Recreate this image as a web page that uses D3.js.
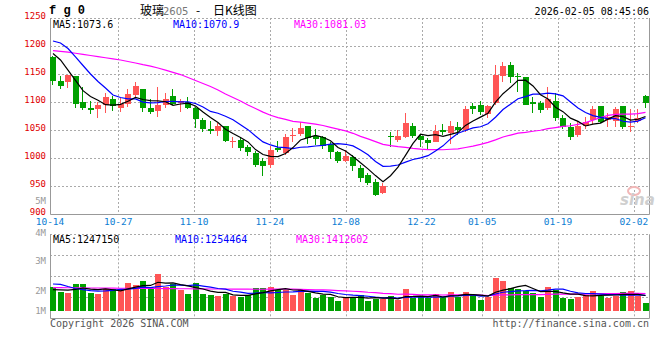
<!DOCTYPE html>
<html>
<head>
<meta charset="utf-8">
<script src="https://cdn.jsdelivr.net/npm/d3@7"></script>
<style>
  body { margin: 0; background: #fff; }
  svg { display: block; font-family: "DejaVu Sans Mono", monospace; font-size: 10px; }
</style>
</head>
<body>
<script>
// trading days shown on the chart (10-14 .. 02-04)
const dates = ["10-14","10-15","10-16","10-17","10-20","10-21","10-22","10-23","10-24","10-27",
  "10-28","10-29","10-30","10-31","11-03","11-04","11-05","11-06","11-07","11-10",
  "11-11","11-12","11-13","11-14","11-17","11-18","11-19","11-20","11-21","11-24",
  "11-25","11-26","11-27","11-28","12-01","12-02","12-03","12-04","12-05","12-08",
  "12-09","12-10","12-11","12-12","12-15","12-16","12-17","12-18","12-19","12-22",
  "12-23","12-24","12-25","12-26","12-29","12-30","12-31","01-05","01-06","01-07",
  "01-08","01-09","01-12","01-13","01-14","01-15","01-16","01-19","01-20","01-21",
  "01-22","01-23","01-26","01-27","01-28","01-29","01-30","02-02","02-03","02-04"];

const opens = [1180,1138,1136,1146,1100,1090,1088,1095,1106,1090, 1097,1113,1123,1090,1084,1094,1110,1098,1100,1089,
  1067,1052,1049,1057,1029,1032,1020,1009,995,988, 1017,1009,1040,1043,1057,1039,1037,1025,1011,995,
  1001,983,970,957,938,1040,1033,1037,1058,1040, 1033,1029,1050,1044,1055,1050,1092,1095,1078,1098,
  1146,1166,1147,1144,1100,1098,1090,1102,1072,1056, 1041,1057,1067,1092,1068,1066,1092,1055,1066,1110];
const highs = [1183,1146,1149,1147,1127,1102,1100,1116,1110,1107, 1124,1136,1123,1106,1127,1116,1123,1106,1109,1091,
  1072,1066,1062,1058,1038,1035,1023,1013,1000,1021, 1030,1043,1053,1065,1058,1052,1040,1029,1012,1015,
  1005,987,973,962,955,1046,1050,1080,1062,1043, 1035,1059,1061,1066,1065,1092,1098,1101,1095,1166,
  1171,1171,1151,1145,1109,1102,1127,1116,1076,1063, 1066,1073,1093,1093,1080,1091,1093,1087,1087,1113];
const lows = [1131,1123,1125,1090,1086,1079,1072,1081,1084,1083, 1091,1109,1082,1079,1073,1089,1094,1083,1087,1054,
  1047,1043,1039,1028,1018,1013,1004,984,967,983, 1011,1005,1029,1039,1025,1023,1016,999,991,993,
  977,957,952,933,935,1019,1028,1035,1036,1020, 1016,1028,1041,1025,1041,1046,1079,1077,1071,1095,
  1136,1134,1118,1094,1081,1081,1086,1066,1052,1033, 1038,1052,1061,1062,1055,1056,1052,1046,1063,1090];
const closes = [1138,1129,1148,1096,1090,1086,1095,1109,1093,1096, 1114,1129,1090,1083,1094,1106,1097,1102,1090,1069,
  1052,1049,1057,1030,1030,1017,1010,988,986,1014, 1014,1038,1041,1054,1035,1034,1021,1010,994,1004,
  985,964,956,934,950,1038,1040,1062,1040,1032, 1026,1048,1047,1058,1050,1088,1087,1082,1093,1148,
  1164,1144,1144,1095,1096,1086,1105,1071,1056,1038, 1057,1064,1088,1065,1073,1088,1056,1057,1072,1098];

// volume, millions of lots
const volumes = [1.94,1.53,1.45,2.19,2.19,1.45,1.37,1.78,1.80,1.70, 2.27,2.11,2.43,1.84,3.01,1.92,2.19,1.70,1.37,2.27,
  1.37,1.29,1.23,1.37,1.23,1.15,1.29,1.86,1.86,1.94, 1.70,1.70,1.29,1.78,1.43,1.07,1.26,1.15,0.80,1.10,
  1.15,1.29,0.82,0.98,0.93,1.23,0.88,1.78,1.02,1.10, 1.02,1.37,1.10,1.53,1.15,1.53,1.29,0.88,1.15,2.70,
  2.43,1.86,1.75,1.64,1.43,1.15,1.94,1.70,1.07,0.96, 1.15,1.29,1.61,1.23,1.07,1.23,1.53,1.61,1.23,0.63];

// moving average values before enough history is on screen
const ma5Head = [1186.6,1175,1157,1138.6];
const ma10Head = [1208.9,1205.4,1195.5,1180.4,1165.2,1150,1136.6,1125,1112.5];
const ma30Head = [1191.6,1190.5,1189,1187,1185,1183,1181,1179,1177,1175,1172.3,1169.6,1166.6,1164,1160.7,
  1156.8,1153,1149,1143.8,1138.4,1133,1127.7,1121.4,1114.3,1108,1101.8,1094.6,1088.4,1082];
const volMa5Head = [1.72,1.70,1.68,1.74];
const volMa10Head = [2.19,2.16,1.98,1.82,1.72,1.64,1.61,1.62,1.66];
const volMa30Head = [1.89,1.89,1.88,1.88,1.87,1.86,1.86,1.85,1.85,1.84,1.84,1.83,1.83,1.82,1.82,
  1.81,1.81,1.80,1.80,1.79,1.79,1.78,1.78,1.78,1.77,1.77,1.77,1.76,1.76];

const priceTicks = [1250,1200,1150,1100,1050,1000,950,900];
const volTickLabels = ["5M","4M","3M","2M","1M"];
const dateLabels = ["10-14","10-27","11-10","11-24","12-08","12-22","01-05","01-19","02-02"];
const priceLegend = ["MA5:1073.6","MA10:1070.9","MA30:1081.03"];
const volLegend = ["MA5:1247150","MA10:1254464","MA30:1412602"];
const maColors = ["#000000","#0000ff","#ff00ff"];

const UP = "#ff5555", DOWN = "#00a000";

const width = 660, height = 360;
const left = 50, right = 649;
const cr = v => Math.round(v) + 0.5;

const svg = d3.select("body").append("svg")
  .attr("width", width)
  .attr("height", height);

const x = d3.scaleBand().domain(d3.range(dates.length)).range([50, 648.5]).paddingInner(0.2).paddingOuter(0);
const xGrid = d3.scaleLinear().domain([0, dates.length - 1]).range([left, right]);
const y = d3.scaleLinear().domain([900, 1250]).range([214, 18]);
const yVol = d3.scaleLinear().domain([0, 1]).range([310.7, 298.5]);
const volRows = d3.scaleLinear().domain([0, 4]).range([317.5, 234.3]);
const yVolTick = d3.scaleLinear().domain([5, 4, 3, 2, 1]).range([200.5, 233, 261, 291, 311]);

const movingAvg = (vals, n, head) => vals.map((v, i) =>
  i < n - 1 ? head[i] : d3.mean(vals.slice(i - n + 1, i + 1)));

const gridIdx = dateLabels.map(d => dates.indexOf(d))
  .filter(i => xGrid(i) - left > 15 && right - xGrid(i) > 15);

// ---------- grid & frames ----------
const grid = svg.append("g").attr("stroke", "#aaa").attr("stroke-dasharray", "2,2").attr("fill", "none");

grid.selectAll(".hgrid")
  .data(priceTicks.filter(t => t > 900))
  .join("line")
  .attr("x1", left).attr("x2", right)
  .attr("y1", d => cr(y(d))).attr("y2", d => cr(y(d)));

grid.selectAll(".vgrid")
  .data(gridIdx)
  .join("line")
  .attr("x1", d => cr(xGrid(d))).attr("x2", d => cr(xGrid(d)))
  .attr("y1", y(1250)).attr("y2", y(900));

grid.selectAll(".vhgrid")
  .data(d3.range(1, 5))
  .join("line")
  .attr("x1", left).attr("x2", right)
  .attr("y1", d => cr(volRows(d))).attr("y2", d => cr(volRows(d)));

grid.selectAll(".vvgrid")
  .data(gridIdx)
  .join("line")
  .attr("x1", d => cr(xGrid(d))).attr("x2", d => cr(xGrid(d)))
  .attr("y1", volRows(4)).attr("y2", volRows(0));

const frame = svg.append("g").attr("stroke", "#999").attr("fill", "none");
frame.append("path")
  .attr("d", `M${cr(left)},${y(1250)}V${cr(y(900))}H${cr(right)}V${y(1250)}`);
frame.append("path")
  .attr("d", `M${cr(left)},${volRows(4)}V${cr(volRows(0))}H${cr(right)}V${volRows(4)}`);

// ---------- candles ----------
const candle = svg.append("g")
  .selectAll("g")
  .data(d3.range(dates.length))
  .join("g")
  .attr("fill", i => closes[i] >= opens[i] ? UP : DOWN)
  .attr("shape-rendering", "crispEdges");

candle.append("rect")
  .attr("x", i => Math.round(x(i)) + 2)
  .attr("width", 1)
  .attr("y", i => Math.round(y(highs[i])))
  .attr("height", i => Math.max(1, Math.round(y(lows[i])) - Math.round(y(highs[i]))));

candle.append("rect")
  .attr("x", i => Math.round(x(i)))
  .attr("width", x.bandwidth())
  .attr("y", i => Math.round(y(Math.max(opens[i], closes[i]))))
  .attr("height", i => Math.max(1, Math.round(y(Math.min(opens[i], closes[i]))) - Math.round(y(Math.max(opens[i], closes[i])))));

// ---------- volume bars ----------
svg.append("g")
  .attr("shape-rendering", "crispEdges")
  .selectAll("rect")
  .data(volumes)
  .join("rect")
  .attr("x", (d, i) => Math.round(x(i)))
  .attr("width", x.bandwidth())
  .attr("y", d => Math.round(yVol(d)))
  .attr("height", d => Math.round(yVol(0)) - Math.round(yVol(d)))
  .attr("fill", (d, i) => closes[i] >= opens[i] ? UP : DOWN);

// ---------- moving averages ----------
const priceMAs = [movingAvg(closes, 5, ma5Head), movingAvg(closes, 10, ma10Head), movingAvg(closes, 30, ma30Head)];
const volMAs = [movingAvg(volumes, 5, volMa5Head), movingAvg(volumes, 10, volMa10Head), movingAvg(volumes, 30, volMa30Head)];

const priceLine = d3.line().x((d, i) => x(i) + 3).y(d => y(d));
const volLine = d3.line().x((d, i) => x(i) + 3).y(d => yVol(d));

svg.append("g").attr("fill", "none").attr("stroke-width", 1.2)
  .selectAll("path")
  .data([...volMAs.slice().reverse().map((s, k) => ({ s, c: maColors[2 - k], line: volLine })),
         ...priceMAs.slice().reverse().map((s, k) => ({ s, c: maColors[2 - k], line: priceLine }))])
  .join("path")
  .attr("stroke", d => d.c)
  .attr("d", d => d.line(d.s));

// ---------- axis labels ----------
svg.append("g")
  .attr("fill", "#e00000")
  .attr("font-size", 9)
  .attr("text-anchor", "end")
  .selectAll("text")
  .data(priceTicks)
  .join("text")
  .attr("x", 46)
  .attr("y", d => y(d) - 2.5)
  .attr("dy", "0.35em")
  .text(d => d);

svg.append("g")
  .attr("fill", "#999")
  .attr("font-size", 9)
  .attr("text-anchor", "end")
  .selectAll("text")
  .data(volTickLabels)
  .join("text")
  .attr("x", 46)
  .attr("y", d => yVolTick(parseInt(d)))
  .attr("dy", "0.35em")
  .text(d => d);

svg.append("g")
  .attr("fill", "#0b7dd3")
  .attr("font-size", 9.5)
  .attr("text-anchor", "middle")
  .selectAll("text")
  .data(dateLabels)
  .join("text")
  .attr("x", d => xGrid(dates.indexOf(d)))
  .attr("y", 225.2)
  .text(d => d);

// ---------- legends ----------
const legendX = [53, 173, 294];
svg.append("g").selectAll("text")
  .data(priceLegend)
  .join("text")
  .attr("x", (d, i) => legendX[i]).attr("y", 27.5)
  .attr("fill", (d, i) => maColors[i])
  .text(d => d);

svg.append("g").selectAll("text")
  .data(volLegend)
  .join("text")
  .attr("x", (d, i) => legendX[i] + (i ? 2 : 0)).attr("y", 242.5)
  .attr("fill", (d, i) => maColors[i])
  .text(d => d);

// ---------- header & footer ----------
svg.append("text")
  .attr("x", 49).attr("y", 14)
  .attr("font-weight", "bold")
  .attr("font-size", 12)
  .attr("font-family", "'Liberation Mono', monospace")
  .text("f g 0");

const title = svg.append("text")
  .attr("y", 14.5)
  .attr("font-family", "'Noto Sans CJK SC', sans-serif")
  .attr("font-size", 12);
title.append("tspan").attr("x", 140).text("玻璃");
title.append("tspan").attr("x", 163).attr("fill", "#777")
  .attr("font-family", "'DejaVu Sans', sans-serif").attr("font-size", 10).text("2605");
title.append("tspan").attr("x", 196).text("-");
title.append("tspan").attr("x", 213).text("日K线图");

svg.append("text")
  .attr("x", 649).attr("y", 15)
  .attr("text-anchor", "end")
  .text("2026-02-05 08:45:06");

svg.append("text")
  .attr("x", 50).attr("y", 327)
  .attr("fill", "#555")
  .text("Copyright 2026 SINA.COM");

svg.append("text")
  .attr("x", 649).attr("y", 327)
  .attr("fill", "#555")
  .attr("text-anchor", "end")
  .text("http://finance.sina.com.cn");

// sina watermark
svg.append("ellipse")
  .attr("cx", 634).attr("cy", 191).attr("rx", 6).attr("ry", 4)
  .attr("fill", "none").attr("stroke", "#f2b8b8").attr("stroke-width", 2);
svg.append("text")
  .attr("x", 620).attr("y", 205)
  .attr("font-family", "'DejaVu Sans', sans-serif")
  .attr("font-style", "italic").attr("font-weight", "bold")
  .attr("font-size", 15)
  .attr("fill", "#cfcfcf")
  .text("sina");
</script>
</body>
</html>
